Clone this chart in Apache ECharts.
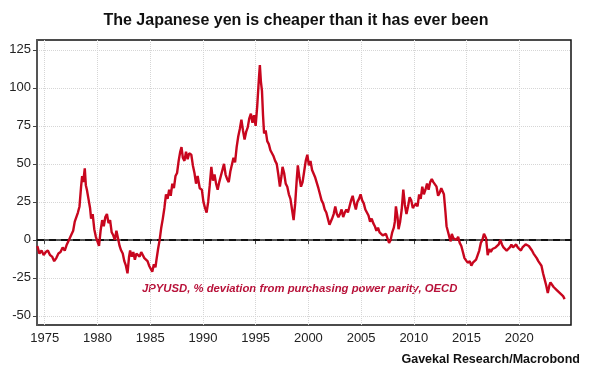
<!DOCTYPE html>
<html><head><meta charset="utf-8">
<script src="https://cdn.jsdelivr.net/npm/echarts@6/dist/echarts.min.js"></script>
<style>html,body{margin:0;padding:0;background:#fff}#c{width:600px;height:383px}</style>
</head><body><div id="c"></div>
<script>
const titleText = 'The Japanese yen is cheaper than it has ever been';
const seriesLabel = 'JPYUSD, % deviation from purchasing power parity, OECD';
const sourceText = 'Gavekal Research/Macrobond';
const xTicks = [1975,1980,1985,1990,1995,2000,2005,2010,2015,2020];
const yTicks = [-50,-25,0,25,50,75,100,125];
const years = [
1974.3,1974.5,1974.7,1974.9,1975.1,1975.3,1975.5,1975.7,1975.9,1976.1,1976.3,1976.5,1976.7,1976.9,1977.1,1977.3,1977.5,1977.7,1977.85,1978.0,
1978.15,1978.3,1978.45,1978.55,1978.65,1978.8,1978.9,1979.0,1979.15,1979.3,1979.4,1979.55,1979.7,1979.85,1980.0,1980.15,1980.3,1980.45,1980.6,1980.75,
1980.9,1981.05,1981.2,1981.35,1981.5,1981.65,1981.8,1981.95,1982.1,1982.25,1982.4,1982.55,1982.7,1982.85,1983.0,1983.1,1983.25,1983.4,1983.55,1983.7,
1983.85,1984.0,1984.15,1984.3,1984.45,1984.6,1984.75,1984.9,1985.05,1985.2,1985.35,1985.5,1985.6,1985.75,1985.9,1986.05,1986.2,1986.35,1986.5,1986.65,
1986.8,1986.95,1987.1,1987.25,1987.4,1987.55,1987.7,1987.85,1987.97,1988.1,1988.25,1988.4,1988.55,1988.7,1988.9,1989.05,1989.2,1989.35,1989.5,1989.7,
1989.9,1990.05,1990.2,1990.35,1990.5,1990.65,1990.8,1990.95,1991.1,1991.25,1991.4,1991.55,1991.7,1991.85,1992.0,1992.15,1992.3,1992.45,1992.6,1992.75,
1992.9,1993.05,1993.2,1993.35,1993.5,1993.65,1993.8,1993.95,1994.1,1994.25,1994.4,1994.55,1994.7,1994.85,1995.0,1995.15,1995.3,1995.4,1995.5,1995.6,
1995.7,1995.8,1995.95,1996.1,1996.25,1996.4,1996.55,1996.7,1996.85,1997.0,1997.15,1997.3,1997.45,1997.55,1997.7,1997.85,1998.0,1998.15,1998.3,1998.45,
1998.6,1998.75,1998.9,1999.0,1999.15,1999.3,1999.45,1999.6,1999.75,1999.9,2000.05,2000.2,2000.35,2000.5,2000.65,2000.8,2000.95,2001.1,2001.25,2001.4,
2001.55,2001.7,2001.85,2002.0,2002.1,2002.25,2002.4,2002.55,2002.7,2002.85,2003.0,2003.15,2003.3,2003.45,2003.6,2003.75,2003.9,2004.05,2004.2,2004.35,
2004.5,2004.65,2004.8,2004.95,2005.1,2005.25,2005.4,2005.55,2005.7,2005.85,2006.0,2006.15,2006.3,2006.45,2006.6,2006.75,2006.9,2007.05,2007.2,2007.35,
2007.5,2007.65,2007.8,2007.95,2008.1,2008.2,2008.3,2008.45,2008.55,2008.7,2008.85,2009.0,2009.15,2009.3,2009.45,2009.6,2009.75,2009.9,2010.05,2010.2,
2010.35,2010.5,2010.65,2010.8,2010.95,2011.1,2011.25,2011.4,2011.55,2011.7,2011.85,2012.0,2012.15,2012.3,2012.45,2012.6,2012.75,2012.85,2013.0,2013.1,
2013.25,2013.4,2013.5,2013.6,2013.75,2013.9,2014.05,2014.2,2014.35,2014.5,2014.65,2014.8,2014.95,2015.1,2015.3,2015.45,2015.6,2015.75,2015.9,2016.05,
2016.2,2016.35,2016.5,2016.65,2016.75,2016.85,2017.0,2017.15,2017.3,2017.45,2017.6,2017.75,2017.9,2018.05,2018.2,2018.35,2018.5,2018.65,2018.8,2018.95,
2019.1,2019.25,2019.4,2019.55,2019.7,2019.85,2020.0,2020.15,2020.3,2020.45,2020.6,2020.75,2020.9,2021.05,2021.2,2021.35,2021.5,2021.65,2021.8,2021.95,
2022.1,2022.25,2022.4,2022.55,2022.7,2022.85,2022.95,2023.1,2023.25,2023.4,2023.55,2023.7,2023.85,2024.0,2024.15,2024.3
];
const values = [
-4,-9,-7,-10,-8,-7,-10,-11,-14,-12,-9,-8,-5,-7,-3,0,3,6,12,11,
18,22,35,42,38,47,36,33,27,21,14,17,7,2,1,-4,6,13,9,15,
17,11,13,5,3,0,6,1,-4,-7,-9,-14,-17,-22,-11,-7,-11,-8,-13,-9,
-8,-11,-8,-7,-12,-13,-14,-17,-18,-21,-16,-18,-13,-6,0,8,14,21,30,27,
33,29,37,34,42,44,52,58,61,54,52,58,53,57,56,49,44,37,42,34,
33,25,21,18,25,36,48,39,43,37,33,38,42,46,50,43,40,38,45,46,
54,51,61,68,73,79,72,66,71,74,80,83,77,82,75,88,105,115,104,98,
82,70,72,65,63,59,58,55,52,50,43,35,42,48,44,37,35,30,27,20,
13,24,40,49,41,35,38,45,52,56,49,52,46,47,41,40,34,30,26,24,
20,18,14,10,9,14,17,22,17,15,17,20,15,18,20,18,22,26,29,24,
20,25,27,30,26,24,20,18,16,12,14,11,9,6,8,5,6,3,2,4,
1,-2,0,5,8,12,22,15,7,12,20,33,23,17,22,28,26,21,20,24,
22,30,27,35,30,33,37,33,38,40,38,38,35,29,31,34,33,30,18,9,
5,1,-1,4,1,2,0,2,-2,-4,-8,-12,-13,-15,-14,-17,-15,-16,-13,-10,
-7,-2,0,4,5,1,-10,-6,-8,-6,-7,-5,-6,-3,0,-3,-5,-4,-7,-6,
-5,-3,-5,-4,-3,-5,-4,-7,-5,-6,-3,-3,-4,-3,-7,-9,-10,-12,-14,-15,
-17,-22,-26,-30,-35,-30,-28,-27,-31,-30,-33,-32,-35,-34,-37,-39
];
const data = years.map((y, i) => [y, values[i]]);
const chart = echarts.init(document.getElementById('c'), null, {renderer: 'canvas'});
chart.setOption({
  animation: false,
  backgroundColor: '#fff',
  title: {
    text: titleText, left: 291, top: 8, textAlign: 'center',
    textStyle: {fontFamily: 'Liberation Sans', fontWeight: 'bold', fontSize: 16, color: '#111'}
  },
  grid: {left: 37, right: 29, top: 40, bottom: 58, show: true, borderColor: '#111', borderWidth: 1.5, backgroundColor: 'transparent'},
  xAxis: {
    type: 'value', min: 1974.27, max: 2024.9,
    axisLine: {show: true, lineStyle: {color: '#222', width: 1.5}},
    axisTick: {show: true, customValues: xTicks, length: 4, lineStyle: {color: '#444'}},
    axisLabel: {customValues: xTicks, color: '#222', fontSize: 13, fontFamily: 'Liberation Sans', margin: 7, formatter: v => String(v)},
    splitLine: {show: true, lineStyle: {color: '#d6d6d6', type: 'dotted', width: 1}}
  },
  yAxis: {
    type: 'value', min: -56, max: 131.5,
    axisLine: {show: true, lineStyle: {color: '#555', width: 2}},
    axisTick: {show: true, customValues: yTicks, length: 4, lineStyle: {color: '#444'}},
    axisLabel: {customValues: yTicks, color: '#222', fontSize: 13, fontFamily: 'Liberation Sans', margin: 6},
    splitLine: {show: true, lineStyle: {color: '#d6d6d6', type: 'dotted', width: 1}}
  },
  series: [{
    type: 'line', data: data, showSymbol: false, symbol: 'none',
    lineStyle: {color: '#c8061e', width: 2.4},
    z: 3,
    markLine: {
      silent: true, symbol: ['none', 'none'], label: {show: false},
      lineStyle: {color: '#111', type: [7, 5], width: 2},
      data: [{yAxis: 0}], z: 2
    }
  }],
  graphic: [
    {type: 'text', left: 142, top: 283, style: {text: seriesLabel, fill: '#b8123a', font: 'italic bold 11.3px "Liberation Sans"'}},
    {type: 'text', right: 20, top: 353, style: {text: sourceText, fill: '#111', font: 'bold 12.5px "Liberation Sans"'}}
  ]
});
</script></body></html>
